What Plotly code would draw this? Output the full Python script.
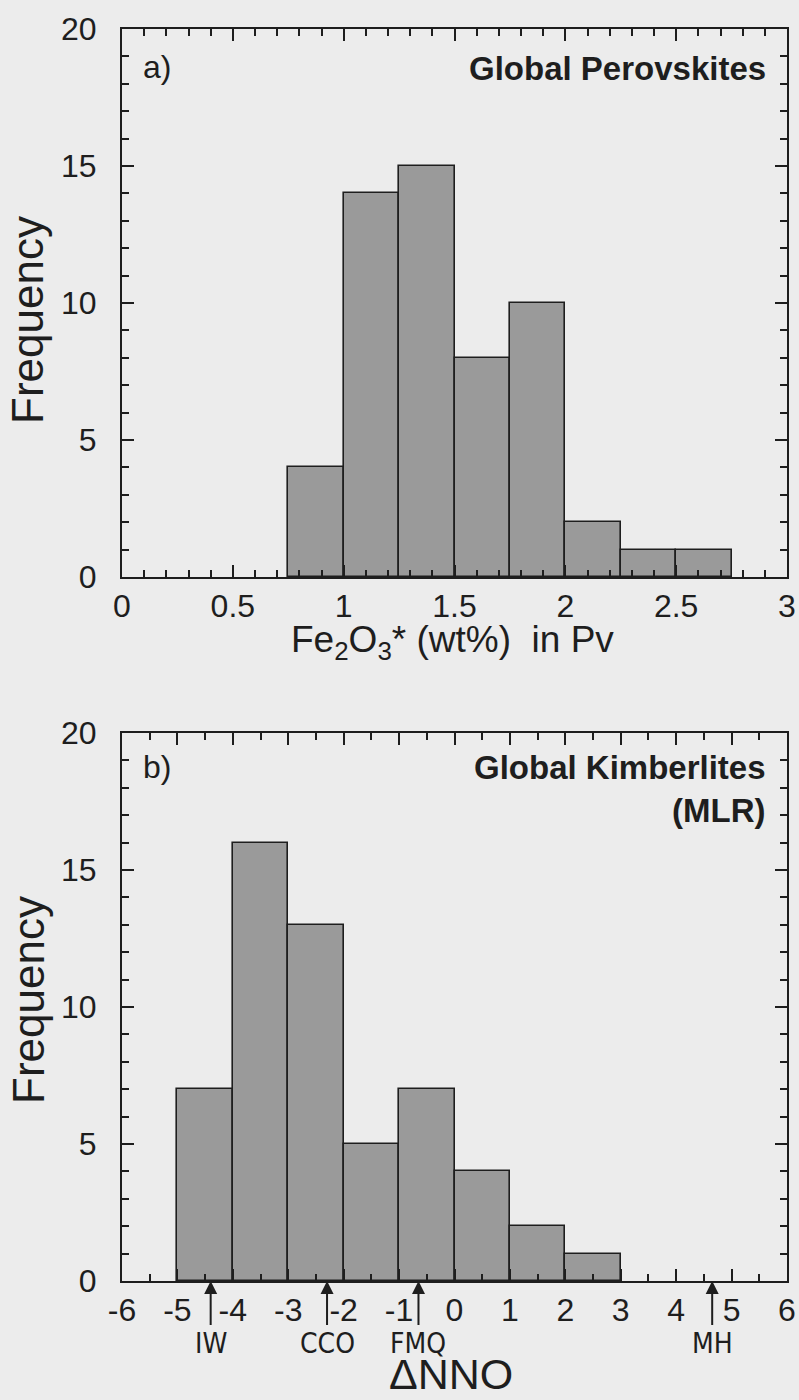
import plotly.graph_objects as go

# ---------------- data ----------------
pv_bin_left = [0.75, 1.00, 1.25, 1.50, 1.75, 2.00, 2.25, 2.50]
pv_bin_width = 0.25
pv_counts = [4, 14, 15, 8, 10, 2, 1, 1]

kim_bin_left = [-5, -4, -3, -2, -1, 0, 1, 2]
kim_bin_width = 1.0
kim_counts = [7, 16, 13, 5, 7, 4, 2, 1]

buffer_names = ["IW", "CCO", "FMQ", "MH"]
buffer_dnno = [-4.4, -2.3, -0.65, 4.65]

pv_xticks = [0, 0.5, 1, 1.5, 2, 2.5, 3]
kim_xticks = list(range(-6, 7))
y_ticks = [0, 5, 10, 15, 20]

# ---------------- style ----------------
W, H = 799, 1400
BG = "#ececec"
BAR = "#9a9a9a"
INK = "#1e1e1e"
FONT = "Liberation Sans, Arial, Helvetica, sans-serif"
NARROW = "Liberation Sans Narrow, Arial Narrow, DejaVu Sans Condensed, Liberation Sans, sans-serif"

def px_x(p):
    return p / W

def px_y(p):
    return 1 - p / H

fig = go.Figure()

fig.add_trace(go.Bar(
    x=[l + pv_bin_width / 2 for l in pv_bin_left], y=pv_counts, width=pv_bin_width,
    marker=dict(color=BAR, line=dict(color=INK, width=1.6)),
    xaxis="x", yaxis="y", showlegend=False, hoverinfo="skip"))

fig.add_trace(go.Bar(
    x=[l + kim_bin_width / 2 for l in kim_bin_left], y=kim_counts, width=kim_bin_width,
    marker=dict(color=BAR, line=dict(color=INK, width=1.6)),
    xaxis="x2", yaxis="y2", showlegend=False, hoverinfo="skip"))

common_axis = dict(
    showline=True, linecolor=INK, linewidth=2, mirror="ticks",
    ticks="inside", ticklen=12, tickwidth=1.5, tickcolor=INK,
    showgrid=False, zeroline=False, fixedrange=True, automargin=False,
    tickfont=dict(family=FONT, size=32, color=INK),
)

xdom = [px_x(122), px_x(787)]

fig.update_layout(
    template="none",
    width=W, height=H,
    margin=dict(l=0, r=0, t=0, b=0, pad=0),
    paper_bgcolor=BG, plot_bgcolor=BG,
    bargap=0,
    xaxis=dict(common_axis, domain=xdom, anchor="y", range=[0, 3],
               tickvals=pv_xticks, ticktext=[f"{v:g}" for v in pv_xticks],
               ticklabelstandoff=0,
               minor=dict(dtick=0.1, ticks="inside", ticklen=7, tickwidth=1.5, tickcolor=INK)),
    yaxis=dict(common_axis, domain=[px_y(577), px_y(29)], anchor="x", range=[0, 20],
               tickvals=y_ticks, ticklabelstandoff=17,
               minor=dict(dtick=1, ticks="inside", ticklen=7, tickwidth=1.5, tickcolor=INK)),
    xaxis2=dict(common_axis, domain=xdom, anchor="y2", range=[-6, 6],
                tickvals=kim_xticks, ticktext=[f"{v:g}" for v in kim_xticks],
                ticklabelstandoff=0,
                minor=dict(dtick=0.5, ticks="inside", ticklen=7, tickwidth=1.5, tickcolor=INK)),
    yaxis2=dict(common_axis, domain=[px_y(1281), px_y(733)], anchor="x2", range=[0, 20],
                tickvals=y_ticks, ticklabelstandoff=17,
                minor=dict(dtick=1, ticks="inside", ticklen=7, tickwidth=1.5, tickcolor=INK)),
)

ann = []

def txt(text, x, y, size, xanchor="center", yanchor="middle", angle=0, bold=False, align="center", family=FONT):
    ann.append(dict(
        text=f"<b>{text}</b>" if bold else text,
        x=px_x(x), y=px_y(y), xref="paper", yref="paper",
        xanchor=xanchor, yanchor=yanchor, textangle=angle, showarrow=False, align=align,
        font=dict(family=family, size=size, color=INK)))

# axis titles
txt("Frequency", 28, 320, 44, angle=-90)
txt("Frequency", 28, 1000, 44, angle=-90)
txt("Fe<sub>2</sub>O<sub>3</sub>* (wt%)  in Pv", 452, 642, 37)
txt("ΔNNO", 451, 1374, 43)

# panel labels
txt("a)", 141, 67, 32, xanchor="left")
txt("b)", 141, 767, 32, xanchor="left")
txt("Global Perovskites", 768, 68, 33, xanchor="right", bold=True)
txt("Global Kimberlites<br>(MLR)", 768, 789, 33, xanchor="right", bold=True, align="right")

# buffer arrows
for name, v in zip(buffer_names, buffer_dnno):
    ann.append(dict(
        text=name, x=v, y=0, xref="x2", yref="y2",
        showarrow=True, ax=0, ay=62, arrowhead=2, arrowsize=1.3, arrowwidth=2,
        arrowcolor=INK, standoff=0,
        font=dict(family=NARROW, size=28, color=INK)))

fig.update_layout(annotations=ann)

fig.write_html("out.html")
